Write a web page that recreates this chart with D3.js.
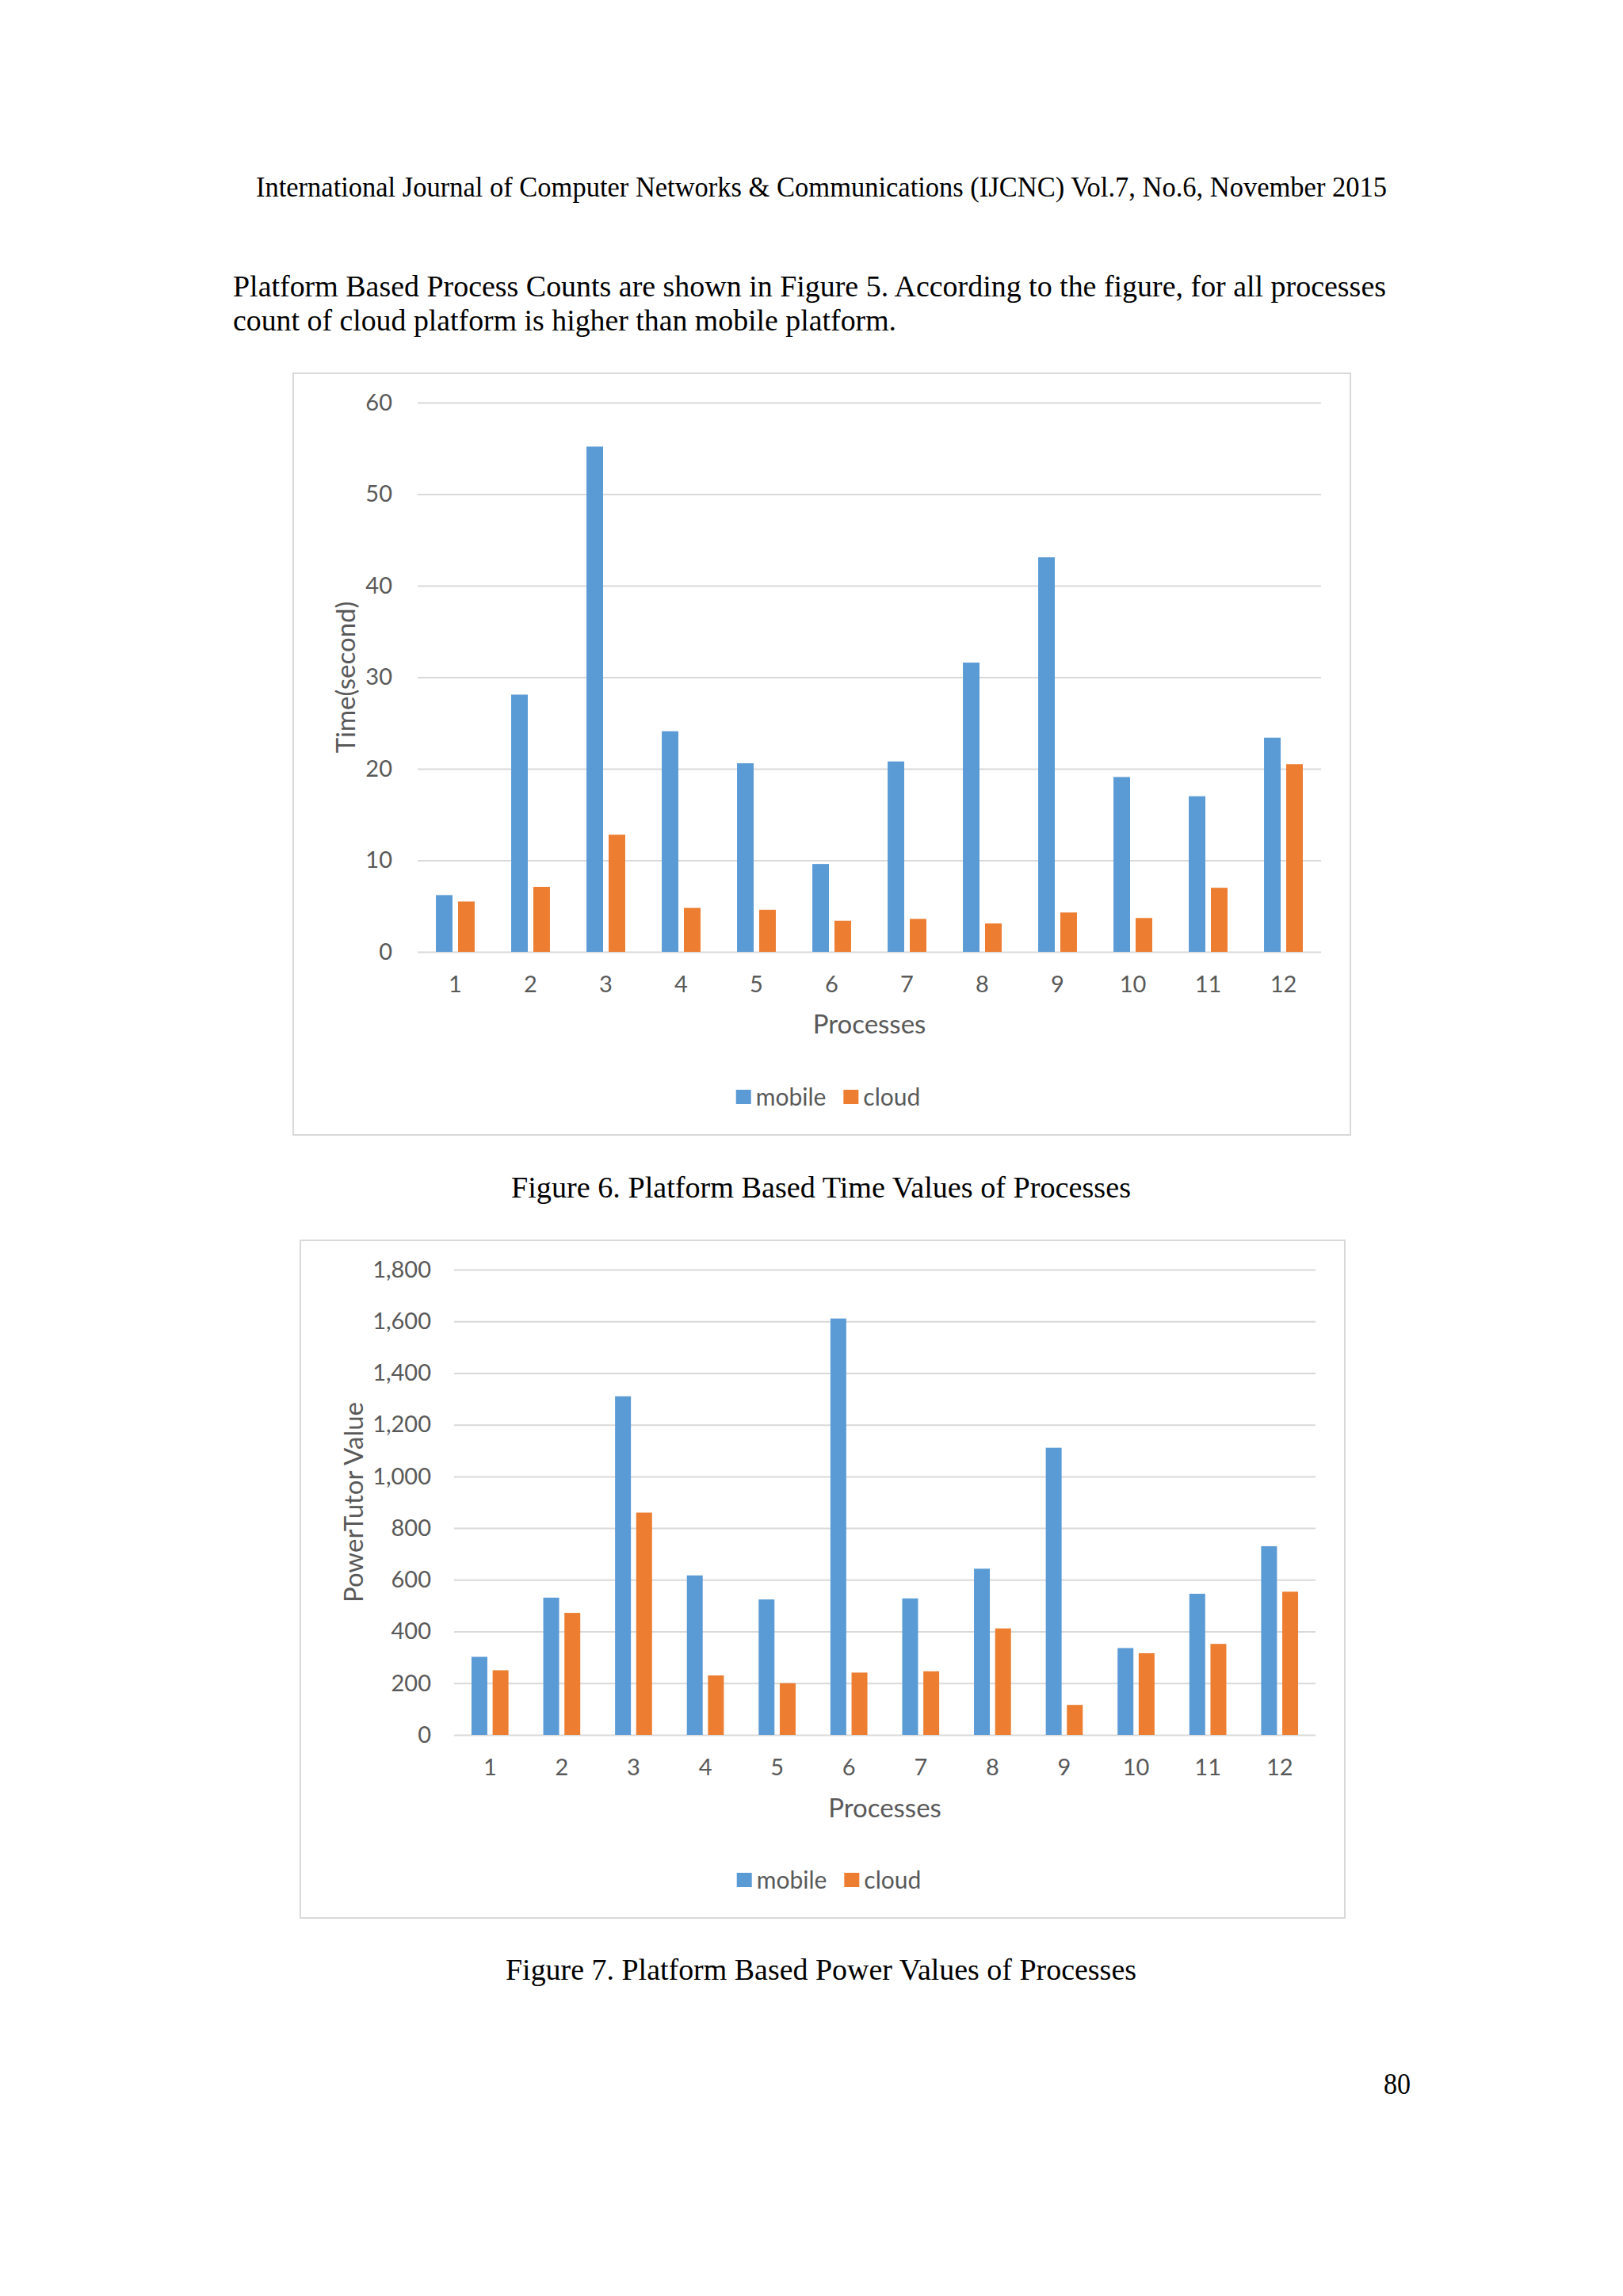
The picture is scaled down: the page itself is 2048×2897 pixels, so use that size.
<!DOCTYPE html>
<html>
<head>
<meta charset="utf-8">
<script src="https://cdn.jsdelivr.net/npm/d3@7/dist/d3.min.js"></script>
<style>
  body { margin: 0; background: #fff; }
  svg text { font-family: Lato, "Open Sans", sans-serif; }
  svg text.serif { font-family: "Liberation Serif", "DejaVu Serif", serif; fill: #000; }
</style>
</head>
<body>
<script>
// data
var processes = ['1', '2', '3', '4', '5', '6', '7', '8', '9', '10', '11', '12'];
var seriesNames = ['mobile', 'cloud'];
var seriesColors = ['#5B9BD5', '#ED7D31'];

var timeMobile = [6.2, 28.1, 55.2, 24.1, 20.6, 9.6, 20.8, 31.6, 43.1, 19.1, 17.0, 23.4];
var timeCloud  = [5.5, 7.1, 12.8, 4.8, 4.6, 3.4, 3.6, 3.1, 4.3, 3.7, 7.0, 20.5];
var timeTicks  = [0, 10, 20, 30, 40, 50, 60];

var powerMobile = [302, 531, 1310, 617, 524, 1611, 528, 643, 1111, 336, 546, 730];
var powerCloud  = [250, 472, 860, 230, 200, 241, 246, 412, 116, 316, 352, 554];
var powerTicks  = [0, 200, 400, 600, 800, 1000, 1200, 1400, 1600, 1800];

var W = 2048, H = 2897;
var svg = d3.select('body').append('svg').attr('width', W).attr('height', H);
svg.append('rect').attr('width', W).attr('height', H).attr('fill', '#fff');

// page text (serif, stretched to the measured width)
function pageText(str, x, y, width, size, anchor) {
  svg.append('text').attr('class', 'serif')
    .attr('x', x).attr('y', y)
    .attr('text-anchor', anchor || 'start')
    .attr('font-size', size)
    .attr('textLength', width)
    .attr('lengthAdjust', 'spacingAndGlyphs')
    .text(str);
}

pageText('International Journal of Computer Networks & Communications (IJCNC) Vol.7, No.6, November 2015', 323, 248, 1427, 36);
pageText('Platform Based Process Counts are shown in Figure 5. According to the figure, for all processes', 294, 374, 1455, 37);
pageText('count of cloud platform is higher than mobile platform.', 294, 417, 837, 37);
pageText('Figure 6. Platform Based Time Values of Processes', 645, 1511, 782, 37);
pageText('Figure 7. Platform Based Power Values of Processes', 638, 2498, 796, 37);
pageText('80', 1746, 2642, 34, 37);

function drawChart(o) {
  var g = svg.append('g');

  g.append('rect')
    .attr('x', o.box[0]).attr('y', o.box[1])
    .attr('width', o.box[2] - o.box[0]).attr('height', o.box[3] - o.box[1])
    .attr('fill', '#fff').attr('stroke', '#D9D9D9').attr('stroke-width', 2);

  var x0 = d3.scaleBand().domain(processes).range([o.left, o.right]);
  var y = d3.scaleLinear().domain([0, d3.max(o.ticks)]).range([o.bottom, o.top]);

  var groupW = x0.bandwidth() * 0.515;
  var x1 = d3.scaleBand().domain(seriesNames)
    .range([-groupW / 2, groupW / 2]).paddingInner(0.25);

  // gridlines + y labels
  var yAxis = g.append('g')
    .attr('transform', 'translate(' + o.left + ',0)')
    .call(d3.axisLeft(y).tickValues(o.ticks)
      .tickSize(-(o.right - o.left))
      .tickPadding(o.tickPad)
      .tickFormat(o.fmt));
  yAxis.select('.domain').remove();
  yAxis.selectAll('line').attr('stroke', '#D9D9D9').attr('stroke-width', 2);
  yAxis.selectAll('text').attr('fill', '#595959').attr('font-size', 29);

  // x labels
  var xAxis = g.append('g')
    .attr('transform', 'translate(0,' + o.bottom + ')')
    .call(d3.axisBottom(x0).tickSize(0).tickPadding(30));
  xAxis.select('.domain').remove();
  xAxis.selectAll('text').attr('fill', '#595959').attr('font-size', 29);

  // bars
  var rows = processes.map(function (p, i) {
    return { key: p, values: [o.data[0][i], o.data[1][i]] };
  });
  var groups = g.append('g').selectAll('g')
    .data(rows).enter().append('g')
    .attr('transform', function (d) { return 'translate(' + (x0(d.key) + x0.bandwidth() / 2) + ',0)'; });
  groups.selectAll('rect')
    .data(function (d) { return d.values.map(function (v, j) { return { s: seriesNames[j], v: v, c: seriesColors[j] }; }); })
    .enter().append('rect')
    .attr('x', function (d) { return x1(d.s); })
    .attr('width', x1.bandwidth())
    .attr('y', function (d) { return y(d.v); })
    .attr('height', function (d) { return y(0) - y(d.v); })
    .attr('fill', function (d) { return d.c; });

  // axis titles
  g.append('text')
    .attr('x', (o.left + o.right) / 2).attr('y', o.xTitleY).attr('dy', '0.35em')
    .attr('text-anchor', 'middle').attr('font-size', 33).attr('fill', '#595959')
    .text('Processes');
  g.append('text')
    .attr('transform', 'translate(' + o.yTitleX + ',' + (o.top + o.bottom) / 2 + ') rotate(-90)')
    .attr('dy', '0.35em')
    .attr('text-anchor', 'middle').attr('font-size', 33).attr('fill', '#595959')
    .text(o.yTitle);

  // legend, centred a little right of the box centre
  var leg = g.append('g');
  var cx = 0;
  seriesNames.forEach(function (name, i) {
    leg.append('rect').attr('x', cx).attr('y', -9).attr('width', 19).attr('height', 18)
      .attr('fill', seriesColors[i]);
    var t = leg.append('text').attr('x', cx + 25).attr('y', 0).attr('dy', '0.35em')
      .attr('font-size', 30).attr('fill', '#595959').text(name);
    cx += 25 + t.node().getComputedTextLength() + 22;
  });
  var legW = cx - 22;
  leg.attr('transform', 'translate(' + ((o.box[0] + o.box[2]) / 2 + 8 - legW / 2) + ',' + o.legendY + ')');
}

drawChart({
  box: [370, 471, 1704, 1432],
  left: 527, right: 1667, top: 508, bottom: 1201,
  ticks: timeTicks, fmt: d3.format('d'), tickPad: 32,
  data: [timeMobile, timeCloud],
  yTitle: 'Time(second)', yTitleX: 436,
  xTitleY: 1292, legendY: 1384
});

drawChart({
  box: [379, 1565, 1697, 2420],
  left: 573, right: 1660, top: 1602, bottom: 2189,
  ticks: powerTicks, fmt: d3.format(','), tickPad: 29,
  data: [powerMobile, powerCloud],
  yTitle: 'PowerTutor Value', yTitleX: 446,
  xTitleY: 2281, legendY: 2372
});
</script>
</body>
</html>
